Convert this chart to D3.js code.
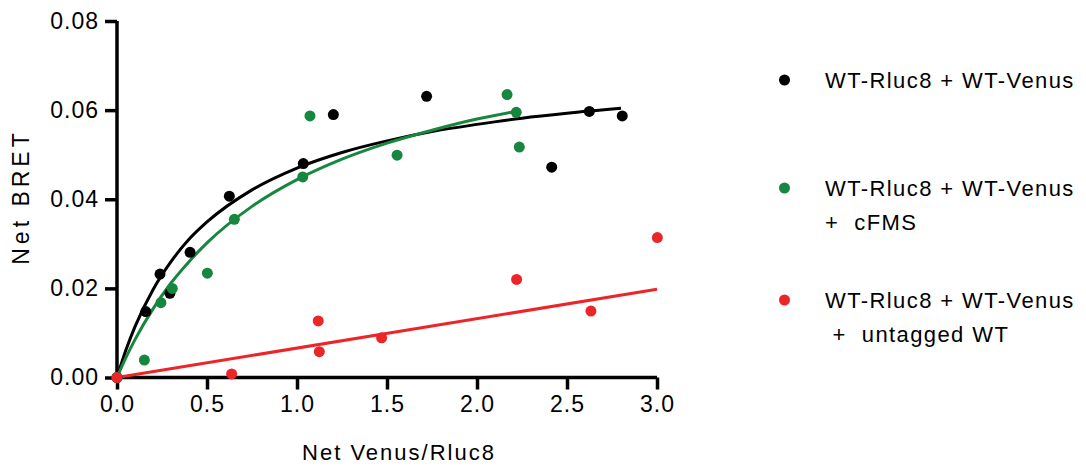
<!DOCTYPE html>
<html>
<head>
<meta charset="utf-8">
<script src="https://cdn.jsdelivr.net/npm/d3@7"></script>
<style>
  html, body { margin: 0; padding: 0; background: #fff; }
  svg { display: block; font-family: "Liberation Sans", Arial, sans-serif; }
</style>
</head>
<body>
<svg id="chart" width="1086" height="473"></svg>
<script>
// ---- data ----
const xTicks = [0.0, 0.5, 1.0, 1.5, 2.0, 2.5, 3.0];
const yTicks = [0.00, 0.02, 0.04, 0.06, 0.08];

const seriesNames = ["WT-Rluc8 + WT-Venus", "WT-Rluc8 + WT-Venus|+  cFMS", "WT-Rluc8 + WT-Venus| +  untagged WT"];
const seriesColors = ["#000000", "#17873f", "#ec2529"];

const blackX = [0, 0.16, 0.239, 0.294, 0.406, 0.624, 1.035, 1.202, 1.72, 2.415, 2.624, 2.807];
const blackY = [0, 0.0148, 0.0232, 0.0189, 0.0281, 0.0407, 0.0480, 0.0590, 0.0631, 0.0472, 0.0597, 0.0587];

const greenX = [0, 0.152, 0.244, 0.307, 0.502, 0.652, 1.032, 1.072, 1.556, 2.167, 2.218, 2.235];
const greenY = [0, 0.0039, 0.0168, 0.0200, 0.0234, 0.0355, 0.0450, 0.0587, 0.0499, 0.0635, 0.0595, 0.0517];

const redX = [0, 0.637, 1.118, 1.124, 1.470, 2.220, 2.633, 3.002];
const redY = [0, 0.0008, 0.0127, 0.0058, 0.0089, 0.0220, 0.0149, 0.0314];

// fitted curves
const blackFitX = [0, 0.05, 0.1, 0.2, 0.3, 0.4, 0.5, 0.75, 1.0, 1.25, 1.5, 1.75, 2.0, 2.25, 2.5, 2.8];
const blackFitY = [0, 0.0062, 0.0114, 0.0197, 0.0260, 0.0310, 0.0349, 0.0421, 0.0470, 0.0505, 0.0531, 0.0552, 0.0568, 0.0582, 0.0593, 0.0604];

const greenFitX = [0, 0.05, 0.1, 0.2, 0.3, 0.4, 0.5, 0.75, 1.0, 1.25, 1.5, 1.75, 2.0, 2.2];
const greenFitY = [0, 0.0045, 0.0085, 0.0154, 0.0212, 0.0260, 0.0302, 0.0384, 0.0444, 0.0490, 0.0526, 0.0555, 0.0580, 0.0596];

const redFitX = [0, 3.0];
const redFitY = [0, 0.0198];

// ---- layout ----
const svg = d3.select("#chart");
const x = d3.scaleLinear().domain([0, 3.0]).range([117, 657]);
const y = d3.scaleLinear().domain([0, 0.08]).range([377.5, 21]);

const zip = (xs, ys) => xs.map((v, i) => [v, ys[i]]);

// axes
const xAxis = svg.append("g")
  .attr("transform", `translate(0,${y(0)})`)
  .call(d3.axisBottom(x).tickValues(xTicks).tickFormat(d3.format(".1f")).tickSize(12).tickPadding(6).tickSizeOuter(0));
const yAxis = svg.append("g")
  .attr("transform", `translate(${x(0)},0)`)
  .call(d3.axisLeft(y).tickValues(yTicks).tickFormat(d3.format(".2f")).tickSize(12).tickPadding(6).tickSizeOuter(0));

[xAxis, yAxis].forEach(g => {
  g.select(".domain").attr("stroke", "#000").attr("stroke-width", 3.5);
  g.selectAll(".tick line").attr("stroke", "#000").attr("stroke-width", 3.5);
  g.selectAll(".tick text").attr("fill", "#000").style("font-size", "23px")
    .style("font-family", "'Liberation Sans', Arial, sans-serif").style("letter-spacing", "1px");
});
// extend domains so the corner is square
xAxis.select(".domain").attr("d", `M${x(0) - 1.75},0H${x(3.0)}`);
yAxis.select(".domain").attr("d", `M0,${y(0) + 1.75}V${y(0.08)}`);

// axis titles
svg.append("text")
  .attr("x", 399).attr("y", 460)
  .attr("text-anchor", "middle")
  .style("font-size", "22px").style("letter-spacing", "2px")
  .text("Net Venus/Rluc8");
svg.append("text")
  .attr("transform", `translate(29,${197}) rotate(-90)`)
  .attr("text-anchor", "middle")
  .style("font-size", "23px").style("letter-spacing", "4px")
  .text("Net BRET");

// fit lines
const line = d3.line().x(d => x(d[0])).y(d => y(d[1])).curve(d3.curveMonotoneX);
const fits = [zip(blackFitX, blackFitY), zip(greenFitX, greenFitY), zip(redFitX, redFitY)];
fits.forEach((f, i) => {
  svg.append("path").datum(f)
    .attr("fill", "none").attr("stroke", seriesColors[i]).attr("stroke-width", 3)
    .attr("d", line);
});

// points (black, green, red drawn in order)
const pts = [zip(blackX, blackY), zip(greenX, greenY), zip(redX, redY)];
pts.forEach((p, i) => {
  svg.append("g").selectAll("circle").data(p).join("circle")
    .attr("cx", d => x(d[0])).attr("cy", d => y(d[1])).attr("r", 5.5)
    .attr("fill", seriesColors[i]);
});

// legend
const legendY = [80, 188, 300];
seriesNames.forEach((name, i) => {
  const g = svg.append("g");
  g.append("circle").attr("cx", 784.5).attr("cy", legendY[i]).attr("r", 5.5).attr("fill", seriesColors[i]);
  const lines = name.split("|");
  lines.forEach((t, j) => {
    g.append("text")
      .attr("x", 825).attr("y", legendY[i] + 8 + j * 34)
      .style("font-size", "22px").style("letter-spacing", "1.4px")
      .style("white-space", "pre")
      .attr("xml:space", "preserve")
      .text(t);
  });
});
</script>
</body>
</html>
